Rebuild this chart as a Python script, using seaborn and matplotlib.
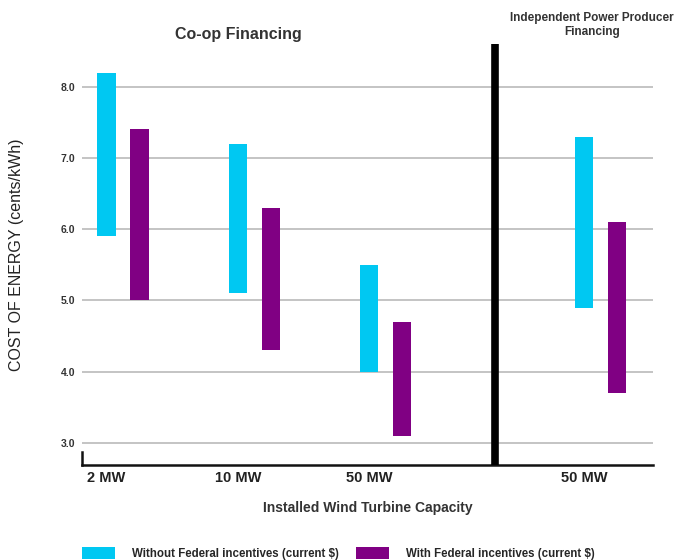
import matplotlib
matplotlib.use("Agg")
import matplotlib.pyplot as plt
from matplotlib.patches import Patch
import numpy as np
import seaborn as sns

# data (cents/kWh ranges)
capacities = ["2 MW", "10 MW", "50 MW", "50 MW"]
without_low = [5.9, 5.1, 4.0, 4.9]
without_high = [8.2, 7.2, 5.5, 7.3]
with_low = [5.0, 4.3, 3.1, 3.7]
with_high = [7.4, 6.3, 4.7, 6.1]
yticks = [3.0, 4.0, 5.0, 6.0, 7.0, 8.0]
series_names = ["Without Federal incentives (current $)",
                "With Federal incentives (current $)"]

cyan = "#00c8f2"
purple = "#800083"
txt = "#222222"

sns.set_style("white")
plt.rcParams["font.family"] = ["Liberation Sans", "DejaVu Sans"]

fig = plt.figure(figsize=(6.83, 5.6), dpi=100)
ax = fig.add_axes([0.1201, 0.1696, 0.8360, 0.7518])

# group centres (co-op groups, then the IPP group past the divider)
group_x = np.array([0.0, 1.0, 1.99, 3.62])
off = 0.125

for lows, highs, col, sgn in [(without_low, without_high, cyan, -1),
                               (with_low, with_high, purple, 1)]:
    lows = np.array(lows)
    highs = np.array(highs)
    sns.barplot(x=group_x + sgn * off, y=highs - lows, bottom=lows,
                native_scale=True, width=0.14, color=col, saturation=1,
                errorbar=None, linewidth=0, zorder=2, ax=ax)

ax.set_xlim(-0.31, 4.02)
ax.set_ylim(2.69, 8.60)

ax.set_yticks(yticks)
ax.set_yticklabels([f"{v:.1f}" for v in yticks], fontsize=7.5,
                   fontweight="bold", color="#333333")
ax.yaxis.grid(True, color="#b4b4b4", lw=1.1)
ax.xaxis.grid(False)
ax.set_axisbelow(True)

ax.set_xticks(group_x - off)
ax.set_xticklabels(capacities, fontsize=10.5, fontweight="bold", color=txt)
ax.tick_params(axis="both", length=0)
ax.tick_params(axis="x", pad=4)
ax.tick_params(axis="y", pad=5)
ax.set_xlabel("")
ax.set_ylabel("")

sns.despine(ax=ax, top=True, right=True)
ax.spines["left"].set_bounds(2.69, 2.87)
for s in ["left", "bottom"]:
    ax.spines[s].set_color("#111111")
    ax.spines[s].set_linewidth(1.8)

# divider between co-op and IPP financing
ax.plot([2.82, 2.82], [2.69, 8.60], color="black", lw=5.5,
        solid_capstyle="butt", zorder=3, clip_on=False)

fig.text(238 / 683, 1 - 35 / 560, "Co-op Financing", ha="center",
         va="center", fontsize=11.5, fontweight="bold", color="#333333")
fig.text(592 / 683, 1 - 25 / 560, "Independent Power Producer\nFinancing",
         ha="center", va="center", fontsize=8.5, fontweight="bold",
         color="#333333", linespacing=1.15)
fig.text(17 / 683, 1 - 255 / 560, "COST OF ENERGY (cents/kWh)",
         rotation=90, ha="center", va="center", fontsize=11.5, color=txt)
fig.text(368 / 683, 1 - 508 / 560, "Installed Wind Turbine Capacity",
         ha="center", va="center", fontsize=10, fontweight="bold",
         color="#333333")

handles = [Patch(facecolor=cyan, edgecolor="none"),
           Patch(facecolor=purple, edgecolor="none")]
fig.legend(handles, series_names, loc="lower left",
           bbox_to_anchor=(82 / 683, 0.0), ncol=2, frameon=False,
           prop={"weight": "bold", "size": 8.3}, handlelength=2.9,
           handleheight=1.15, handletextpad=1.45, columnspacing=1.45,
           borderpad=0, borderaxespad=0)

fig.savefig("out.png", dpi=100)
